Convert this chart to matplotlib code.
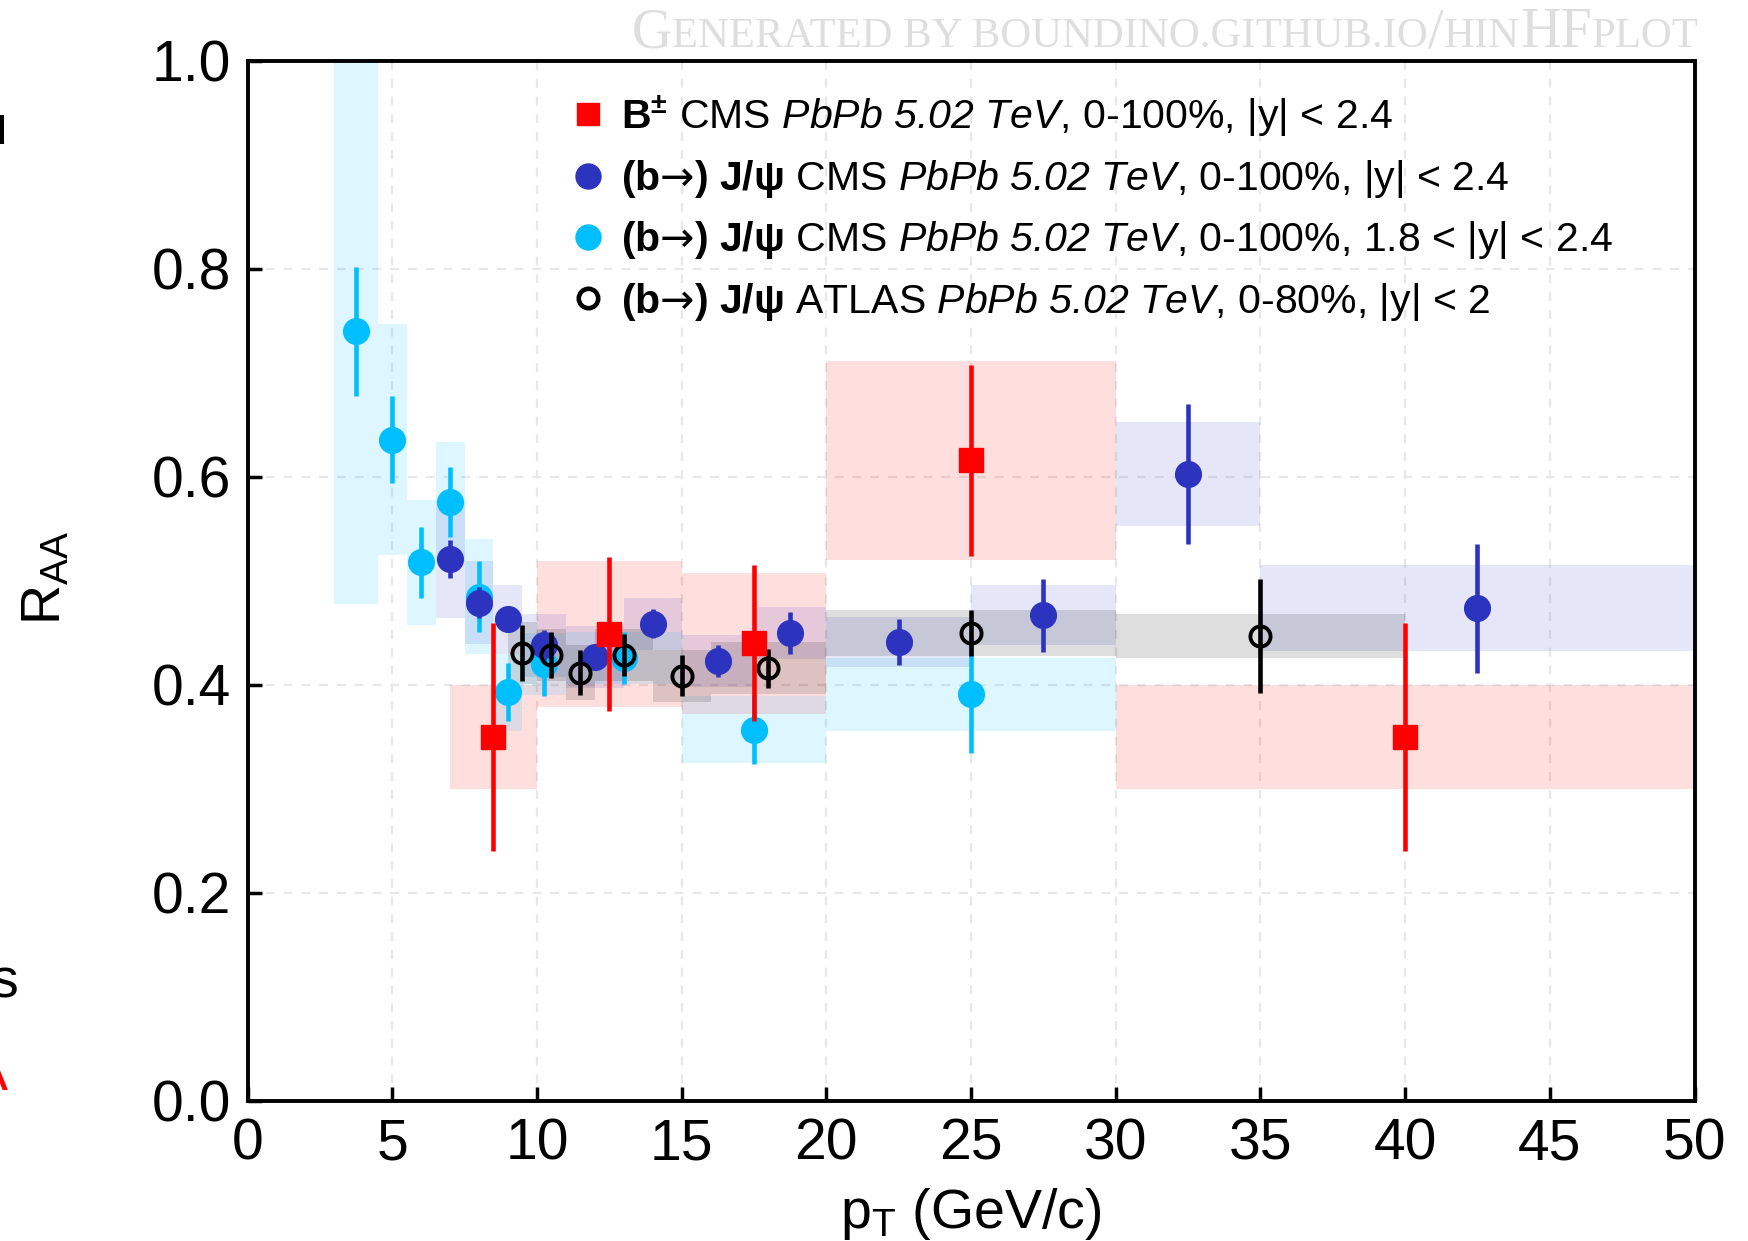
import matplotlib
matplotlib.use("Agg")
import matplotlib.pyplot as plt
from matplotlib.lines import Line2D
from matplotlib.transforms import IdentityTransform
import numpy as np

plt.rcParams['font.family'] = ['Liberation Sans', 'DejaVu Sans']
plt.rcParams['mathtext.fontset'] = 'custom'
plt.rcParams['mathtext.rm'] = 'Liberation Sans'
plt.rcParams['mathtext.it'] = 'Liberation Sans:italic'
plt.rcParams['mathtext.bf'] = 'Liberation Sans:bold'
plt.rcParams['mathtext.sf'] = 'Liberation Sans:italic'
plt.rcParams['mathtext.cal'] = 'DejaVu Sans'

# ---------------- data ----------------
# B+- CMS PbPb 5.02 TeV, 0-100%, |y|<2.4
bp_x = [8.5, 12.5, 17.5, 25, 40]
bp_lo = [7, 10, 15, 20, 30]
bp_hi = [10, 15, 20, 30, 50]
bp_y = [0.350, 0.449, 0.440, 0.616, 0.350]
bp_stat = [0.110, 0.074, 0.075, 0.092, 0.110]
bp_syst = [0.050, 0.070, 0.068, 0.096, 0.050]

# (b->) J/psi CMS, |y|<2.4
cms_x = [7, 8, 9, 10.25, 12, 14, 16.25, 18.75, 22.5, 27.5, 32.5, 42.5]
cms_lo = [6.5, 7.5, 8.5, 9.5, 11, 13, 15, 17.5, 20, 25, 30, 35]
cms_hi = [7.5, 8.5, 9.5, 11, 13, 15, 17.5, 20, 25, 30, 35, 50]
cms_y = [0.521, 0.479, 0.463, 0.438, 0.427, 0.459, 0.423, 0.450, 0.441, 0.467, 0.603, 0.474]
cms_stat = [0.018, 0.015, 0.012, 0.015, 0.012, 0.014, 0.015, 0.020, 0.022, 0.035, 0.067, 0.062]
cms_syst = [0.057, 0.040, 0.033, 0.030, 0.030, 0.025, 0.025, 0.025, 0.024, 0.029, 0.050, 0.041]

# (b->) J/psi CMS, 1.8<|y|<2.4
fwd_x = [3.75, 5, 6, 7, 8, 9, 10.25, 13, 17.5, 25]
fwd_lo = [3, 4.5, 5.5, 6.5, 7.5, 8.5, 9.5, 11, 15, 20]
fwd_hi = [4.5, 5.5, 6.5, 7.5, 8.5, 9.5, 11, 15, 20, 30]
fwd_y = [0.740, 0.636, 0.518, 0.576, 0.485, 0.393, 0.420, 0.426, 0.357, 0.391]
fwd_stat = [0.062, 0.042, 0.034, 0.034, 0.034, 0.028, 0.031, 0.025, 0.033, 0.056]
fwd_syst = [0.262, 0.111, 0.060, 0.058, 0.055, 0.037, 0.030, 0.025, 0.032, 0.035]

# (b->) J/psi ATLAS, 0-80%, |y|<2
atl_x = [9.5, 10.5, 11.5, 13, 15, 18, 25, 35]
atl_lo = [9, 10, 11, 12, 14, 16, 20, 30]
atl_hi = [10, 11, 12, 14, 16, 20, 30, 40]
atl_y = [0.431, 0.429, 0.412, 0.429, 0.409, 0.416, 0.450, 0.447]
atl_stat = [0.027, 0.022, 0.022, 0.020, 0.020, 0.019, 0.022, 0.055]
atl_syst = [0.030, 0.025, 0.026, 0.025, 0.025, 0.025, 0.022, 0.021]

x_ticks = [0, 5, 10, 15, 20, 25, 30, 35, 40, 45, 50]
y_ticks = [0.0, 0.2, 0.4, 0.6, 0.8, 1.0]

BJPSI = r"$\mathbf{(b}\mathcal{→}\mathbf{)\ J/ψ}$"
ENERGY = r"$\mathsf{PbPb\ 5.02\ TeV}$"
leg_labels = [
    r"$\mathbf{B^{\pm}}$ CMS " + ENERGY + ", 0-100%, |y| < 2.4",
    BJPSI + " CMS " + ENERGY + ", 0-100%, |y| < 2.4",
    BJPSI + " CMS " + ENERGY + ", 0-100%, 1.8 < |y| < 2.4",
    BJPSI + " ATLAS " + ENERGY + ", 0-80%, |y| < 2",
]

RED = '#ff0000'
BLUE = '#2c33bf'
CYAN = '#00bfff'
BLACK = '#000000'

W, H = 1748, 1241
fig = plt.figure(figsize=(W / 100, H / 100), dpi=100)
ax = fig.add_axes([247.5 / W, 1 - 1101 / H, (1694.5 - 247.5) / W, (1101 - 61) / H])

def boxes(lo, hi, y, syst, color, alpha):
    lo = np.asarray(lo, float); hi = np.asarray(hi, float)
    y = np.asarray(y, float); s = np.asarray(syst, float)
    ax.bar(lo, 2 * s, width=hi - lo, bottom=y - s, align='edge',
           color=color, alpha=alpha, linewidth=0, zorder=1)

boxes(bp_lo, bp_hi, bp_y, bp_syst, RED, 0.13)
boxes(cms_lo, cms_hi, cms_y, cms_syst, BLUE, 0.12)
boxes(fwd_lo, fwd_hi, fwd_y, fwd_syst, CYAN, 0.13)
boxes(atl_lo, atl_hi, atl_y, atl_syst, BLACK, 0.13)

elw = 3.3
ax.errorbar(fwd_x, fwd_y, yerr=fwd_stat, fmt='o', color=CYAN, ms=18.5,
            elinewidth=elw, capsize=0, zorder=3)
ax.errorbar(cms_x, cms_y, yerr=cms_stat, fmt='o', color=BLUE, ms=18.5,
            elinewidth=elw, capsize=0, zorder=4)
ax.errorbar(atl_x, atl_y, yerr=atl_stat, fmt='o', color=BLACK, ms=14.5,
            mfc='none', mew=2.8, elinewidth=elw, capsize=0, zorder=5)
ax.errorbar(bp_x, bp_y, yerr=bp_stat, fmt='s', color=RED, ms=17,
            elinewidth=elw, capsize=0, zorder=6)

ax.set_xlim(0, 50)
ax.set_ylim(0, 1.0)
ax.set_xticks(x_ticks)
ax.set_yticks(y_ticks)
ax.set_xticklabels([str(t) for t in x_ticks])
ax.set_yticklabels([f"{t:.1f}" for t in y_ticks])
ax.tick_params(direction='in', length=10, width=2.5, labelsize=41, pad=12,
               top=False, right=False)
for sp in ax.spines.values():
    sp.set_linewidth(2.8)
ax.grid(True, color='#e8e8e8', linestyle=(0, (4, 4)), linewidth=1.6)
ax.set_axisbelow(True)

ax.set_xlabel(r"p$_{\mathrm{T}}$ (GeV/c)", fontsize=40, labelpad=10)
fig.text(46 / W, 1 - 578 / H, r"R$_{\mathrm{AA}}$", rotation=90, fontsize=40,
         ha='center', va='center')

handles = [
    Line2D([], [], marker='s', color=RED, ls='none', ms=16),
    Line2D([], [], marker='o', color=BLUE, ls='none', ms=18),
    Line2D([], [], marker='o', color=CYAN, ls='none', ms=18),
    Line2D([], [], marker='o', color=BLACK, mfc='none', mew=3.3, ls='none', ms=14),
]
ax.legend(handles, leg_labels, loc='upper left',
          bbox_to_anchor=(573 / W, 1 - 93 / H), bbox_transform=fig.transFigure,
          frameon=False, fontsize=29.5, handlelength=0.75, handletextpad=0.42,
          labelspacing=0.47, borderpad=0, borderaxespad=0)

# fragments of text cut off at the left edge of the picture
fig.text(7 / W, 1 - 143 / H, "u", fontsize=40, ha='right', va='baseline')
fig.text(18 / W, 1 - 998 / H, "s", fontsize=40, ha='right', va='baseline')
fig.text(8 / W, 1 - 1090 / H, "A", fontsize=40, ha='right', va='baseline', color=RED)

# watermark in small caps
renderer = fig.canvas.get_renderer()
pieces = [("G", True), ("ENERATED BY BOUNDINO.GITHUB.IO", False), ("/", True),
          ("HIN", False), ("HF", True), ("PLOT", False)]
big0, ratio = 30.0, 0.76
target_w = 1694 - 632
tmp = []
for s, b in pieces:
    t = fig.text(0, 0, s, fontsize=big0 if b else big0 * ratio,
                 family='Liberation Serif', transform=IdentityTransform())
    tmp.append(t)
tot = sum(t.get_window_extent(renderer).width for t in tmp)
scale = target_w / tot
xcur = 632.0
ybase = H - 47
for t, (s, b) in zip(tmp, pieces):
    t.set_fontsize((big0 if b else big0 * ratio) * scale)
    t.set_color('#dedede')
    t.set_verticalalignment('baseline')
    t.set_position((xcur, ybase))
    xcur += t.get_window_extent(renderer).width

fig.savefig("out.png", dpi=100)
